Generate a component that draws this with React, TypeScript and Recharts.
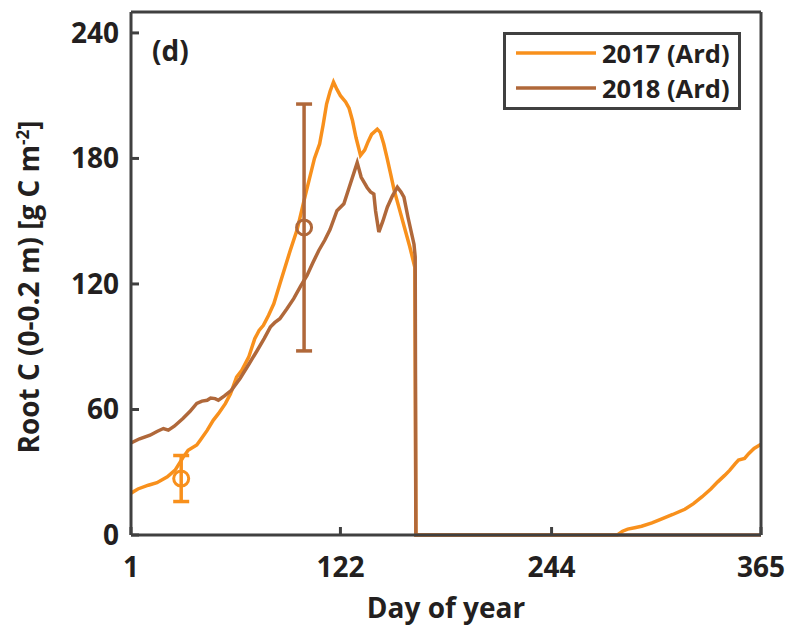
import React from 'react';
import { ComposedChart, Line, Scatter, ErrorBar, XAxis, YAxis, Legend } from 'recharts';

// modelled root C, 2017 (Ard)
const days2017 = [
  1, 5, 11, 16, 22, 26.5, 31, 34, 39, 41, 45, 48.5, 51.5, 55.5, 58.5, 62, 65, 69, 72.5, 75, 77.5,
  80.5, 83.5, 87, 90, 93, 97, 101, 104, 107, 110, 112, 114, 116, 118, 120, 122, 125, 127, 129,
  131, 133.6, 136, 138, 140, 143.3, 145, 147, 149, 151, 153, 156, 159, 162, 165, 165.6, 200,
  282, 285, 288, 292, 296, 302, 307, 314, 321, 326, 331, 336, 340, 344, 347, 350, 352, 355.5,
  358, 361, 365,
];
const root2017 = [
  20, 22, 23.8, 25, 27.8, 31, 37, 40.5, 43, 45.3, 50, 54.8, 58, 62.8, 67.5, 75.5, 78.7, 85,
  93.8, 97.8, 100.2, 105, 110.5, 120, 128, 136, 146, 160, 170, 180, 187, 196, 206, 212, 216.5,
  213, 210, 207, 204, 198, 190, 181.5, 184, 188, 191.5, 194, 192.5, 187, 180, 172.6, 165, 156,
  147, 138, 128, 0, 0,
  0, 1.8, 2.8, 3.5, 4.2, 5.8, 7.5, 9.8, 12.3, 15, 18.3, 22, 25.4, 28.5, 31, 34, 35.8, 36.6,
  39, 41.4, 43.4,
];

// modelled root C, 2018 (Ard)
const days2018 = [
  1, 6, 12, 16, 19.7, 22.6, 26, 31, 35, 39, 42, 45, 47, 49.6, 51.5, 55, 59, 64, 69, 74, 78,
  81.5, 84, 87, 91, 95, 99, 102.7, 106, 109.5, 113, 116, 120, 124, 127, 131.7, 134, 137.5, 139.4,
  141.3, 142.3, 144.2, 146.5, 149.1, 152, 154.9, 157, 158.7, 161, 164.5, 165.2, 165.6, 365,
];
const root2018 = [
  44, 46, 47.7, 49.5, 50.9, 50.1, 52, 55.7, 59, 62.9, 64, 64.4, 65.5, 65.2, 64.4, 66.5, 69.2,
  74.8, 81.5, 88.3, 94, 99.4, 101.5, 103.4, 108, 113, 119, 124.1, 130, 136, 141, 146, 155,
  158.3, 166, 178, 171, 166, 164, 163, 155, 144.8, 150, 156.7, 162, 166.3, 164, 161.5, 152,
  139, 133, 0, 0,
];

// observations (mean with min / max)
const obsDay2017 = 30;
const obsMean2017 = 27;
const obsRange2017 = [16, 38];
const obsDay2018 = 101;
const obsMean2018 = 147;
const obsRange2018 = [88, 206];

const xTicks = [1, 122, 244, 365];
const yTicks = [0, 60, 120, 180, 240];

const ORANGE = '#F8901C';
const BROWN = '#B0683A';
const AXIS = '#404040';
const TEXT = '#231F20';

const data2017 = days2017.map((d, i) => ({ day: d, root: root2017[i] }));
const data2018 = days2018.map((d, i) => ({ day: d, root: root2018[i] }));
const obs2017 = [{ day: obsDay2017, mean: obsMean2017, err: [obsMean2017 - obsRange2017[0], obsRange2017[1] - obsMean2017] }];
const obs2018 = [{ day: obsDay2018, mean: obsMean2018, err: [obsMean2018 - obsRange2018[0], obsRange2018[1] - obsMean2018] }];

const tickStyle = { fill: TEXT, fontSize: 28, fontWeight: 700 };
const lineStyle = { stroke: AXIS, strokeWidth: 3 };

const hollow = (color: string) => (props: any) => (
  <circle cx={props.cx} cy={props.cy} r={7.5} fill="none" stroke={color} strokeWidth={3} />
);

function LegendBox({ payload }: any) {
  const items = (payload || []).filter((p: any) => p.type !== 'none');
  return (
    <div
      style={{
        width: 238,
        height: 78,
        boxSizing: 'border-box',
        border: `3px solid ${AXIS}`,
        background: '#fff',
        position: 'relative',
      }}
    >
      {items.map((entry: any, i: number) => (
        <div
          key={entry.value}
          style={{
            position: 'absolute',
            left: 10,
            top: 18 + i * 35 - 15,
            height: 30,
            display: 'flex',
            alignItems: 'center',
          }}
        >
          <svg width={80} height={6} style={{ marginRight: 6 }}>
            <line x1={0} y1={3} x2={80} y2={3} stroke={entry.color} strokeWidth={3.5} />
          </svg>
          <span style={{ fontSize: 25.5, fontWeight: 700, color: TEXT, whiteSpace: 'nowrap' }}>
            {entry.value}
          </span>
        </div>
      ))}
    </div>
  );
}

export default function App() {
  return (
    <div style={{ position: 'absolute', left: 0, top: 0, width: 793, height: 629, background: '#fff', fontFamily: '"Open Sans", sans-serif' }}>
      <ComposedChart width={793} height={629} margin={{ top: 0, right: 0, bottom: 0, left: 0 }}>
        <XAxis
          dataKey="day"
          type="number"
          domain={[1, 365]}
          ticks={xTicks}
          height={94}
          tickSize={-8}
          tickMargin={30}
          tick={tickStyle}
          axisLine={lineStyle}
          tickLine={lineStyle}
          allowDataOverflow
          label={{ value: 'Day of year', position: 'insideBottom', offset: 11, fontSize: 28, fontWeight: 700, fill: TEXT }}
        />
        <XAxis
          xAxisId="top"
          dataKey="day"
          type="number"
          orientation="top"
          domain={[1, 365]}
          ticks={xTicks}
          height={12}
          tickSize={-8}
          tickFormatter={() => ''}
          axisLine={lineStyle}
          tickLine={lineStyle}
          label={{
            content: (p: any) => (
              <text x={p.viewBox.x + 21} y={p.viewBox.y + 61} fontSize={28} fontWeight={700} fill={TEXT}>
                (d)
              </text>
            ),
          }}
        />
        <YAxis
          type="number"
          domain={[0, 250]}
          ticks={yTicks}
          width={131}
          tickSize={-8}
          tickMargin={20}
          tick={tickStyle}
          axisLine={lineStyle}
          tickLine={lineStyle}
          label={{
            content: () => (
              <text
                transform="translate(39,287) rotate(-90)"
                textAnchor="middle"
                fontSize={28}
                fontWeight={700}
                fill={TEXT}
              >
                Root C (0-0.2 m) [g C m
                <tspan dy={-10} fontSize={17}>-2</tspan>
                <tspan dy={10}>]</tspan>
              </text>
            ),
          }}
        />
        <YAxis
          yAxisId="right"
          orientation="right"
          type="number"
          domain={[0, 250]}
          ticks={yTicks}
          width={32}
          tickSize={-8}
          tickFormatter={() => ''}
          axisLine={lineStyle}
          tickLine={lineStyle}
        />
        <Legend
          layout="vertical"
          align="center"
          verticalAlign="middle"
          wrapperStyle={{ left: 503, top: 32, width: 238, height: 78 }}
          content={<LegendBox />}
        />
        <Line data={data2017} dataKey="root" name="2017 (Ard)" stroke={ORANGE} strokeWidth={3.5} dot={false} isAnimationActive={false} />
        <Line data={data2018} dataKey="root" name="2018 (Ard)" stroke={BROWN} strokeWidth={3.5} dot={false} isAnimationActive={false} />
        <Scatter data={obs2017} dataKey="mean" legendType="none" shape={hollow(ORANGE)} isAnimationActive={false}>
          <ErrorBar dataKey="err" direction="y" width={8} stroke={ORANGE} strokeWidth={3.5} />
        </Scatter>
        <Scatter data={obs2018} dataKey="mean" legendType="none" shape={hollow(BROWN)} isAnimationActive={false}>
          <ErrorBar dataKey="err" direction="y" width={8} stroke={BROWN} strokeWidth={3.5} />
        </Scatter>
      </ComposedChart>
    </div>
  );
}
